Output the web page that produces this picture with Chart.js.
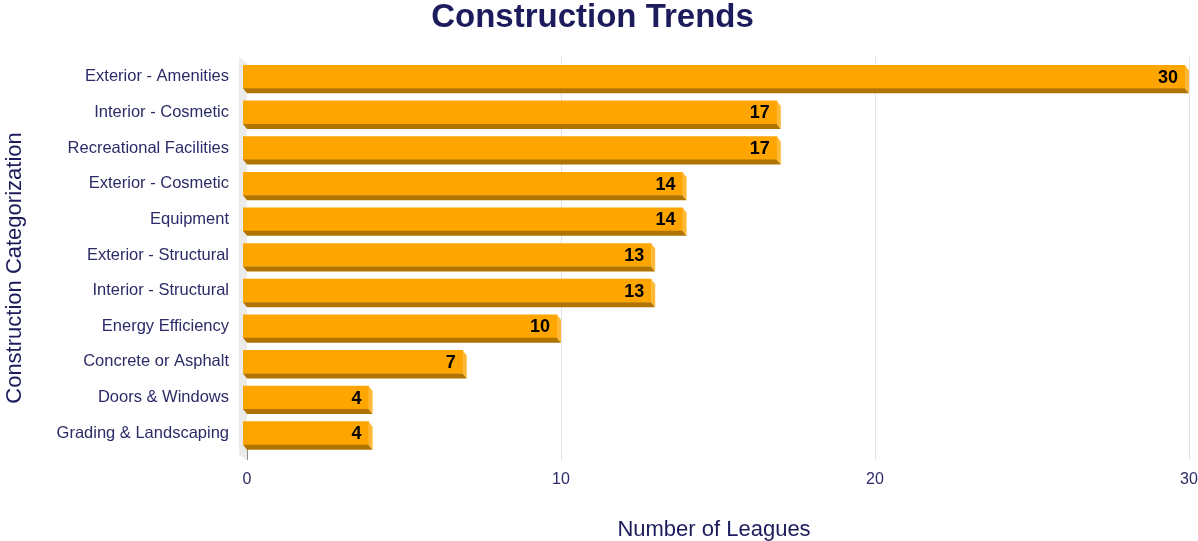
<!DOCTYPE html>
<html><head><meta charset="utf-8">
<script src="https://cdn.jsdelivr.net/npm/chart.js@4"></script>
<style>html,body{margin:0;padding:0;background:#fff}</style>
</head><body>
<canvas id="c" width="1198" height="541"></canvas>
<script>
const categories = [
  'Exterior - Amenities','Interior - Cosmetic','Recreational Facilities','Exterior - Cosmetic',
  'Equipment','Exterior - Structural','Interior - Structural','Energy Efficiency',
  'Concrete or Asphalt','Doors & Windows','Grading & Landscaping'
];
const leagues = [30,17,17,14,14,13,13,10,7,4,4];
const xTickValues = [0,10,20,30];
const chartTitle = 'Construction Trends';
const xTitle = 'Number of Leagues';
const yTitle = 'Construction Categorization';

const FONT = "'Liberation Sans', Arial, sans-serif";
const NAVY = '#1c1c5c';
const TICK = '#2b2b68';
const DX = 4, DY = 5;

const scenePlugin = {
  id: 'scene',
  beforeDatasetsDraw(chart) {
    const ctx = chart.ctx, xs = chart.scales.x, a = chart.chartArea;
    ctx.save();
    const wx = xs.getPixelForValue(0) + DX;
    ctx.fillStyle = '#ebebeb';
    ctx.beginPath();
    ctx.moveTo(wx - 8, a.top - 2);
    ctx.lineTo(wx, a.top + 4);
    ctx.lineTo(wx, a.bottom + 9);
    ctx.lineTo(wx - 8, a.bottom + 4);
    ctx.closePath();
    ctx.fill();
    ctx.strokeStyle = '#e3e3e3';
    ctx.lineWidth = 1;
    xTickValues.forEach(v => {
      if (v === 0) return;
      const px = Math.round(xs.getPixelForValue(v) + DX) + 0.5;
      ctx.beginPath();
      ctx.moveTo(px, a.top - 2);
      ctx.lineTo(px, a.bottom + 9);
      ctx.stroke();
    });
    ctx.strokeStyle = '#8c8c8c';
    ctx.beginPath();
    ctx.moveTo(Math.round(wx) + 0.5, a.bottom - 2);
    ctx.lineTo(Math.round(wx) + 0.5, a.bottom + 9);
    ctx.stroke();
    ctx.restore();
  },
  afterDatasetsDraw(chart) {
    const ctx = chart.ctx;
    const meta = chart.getDatasetMeta(0);
    ctx.save();
    meta.data.forEach((el, i) => {
      const p = el.getProps(['x','y','base','height'], true);
      const x0 = p.base, x1 = p.x, yt = p.y - p.height/2, yb = p.y + p.height/2;
      ctx.fillStyle = '#b07300';
      ctx.beginPath();
      ctx.moveTo(x0, yb); ctx.lineTo(x1, yb); ctx.lineTo(x1 + DX, yb + DY); ctx.lineTo(x0 + DX, yb + DY);
      ctx.closePath(); ctx.fill();
      ctx.fillStyle = '#ffb936';
      ctx.beginPath();
      ctx.moveTo(x1, yt); ctx.lineTo(x1 + DX, yt + DY); ctx.lineTo(x1 + DX, yb + DY); ctx.lineTo(x1, yb);
      ctx.closePath(); ctx.fill();
      ctx.fillStyle = '#000';
      ctx.font = 'bold 18px ' + FONT;
      ctx.textAlign = 'right';
      ctx.textBaseline = 'middle';
      ctx.fillText(String(leagues[i]), x1 - 7, p.y + 1);
    });
    ctx.fillStyle = NAVY;
    ctx.font = '22px ' + FONT;
    ctx.textAlign = 'center';
    ctx.textBaseline = 'alphabetic';
    ctx.translate(21, 268);
    ctx.rotate(-Math.PI/2);
    ctx.fillText(yTitle, 0, 0);
    ctx.restore();
  }
};

new Chart(document.getElementById('c'), {
  type: 'bar',
  data: {
    labels: categories,
    datasets: [{
      data: leagues,
      backgroundColor: '#FFA500',
      borderWidth: 0,
      barThickness: 23
    }]
  },
  options: {
    indexAxis: 'y',
    responsive: false,
    animation: false,
    devicePixelRatio: 1,
    layout: { padding: { right: 13 } },
    plugins: {
      legend: { display: false },
      tooltip: { enabled: false },
      title: {
        display: true,
        text: chartTitle,
        color: NAVY,
        font: { family: FONT, size: 33, weight: 'bold', lineHeight: 1.06 },
        padding: { top: 0, bottom: 24 }
      }
    },
    scales: {
      x: {
        type: 'linear',
        min: 0, max: 30,
        afterBuildTicks: s => { s.ticks = xTickValues.map(v => ({ value: v })); },
        ticks: { color: TICK, font: { family: FONT, size: 16 }, padding: 11, labelOffset: 4 },
        grid: { display: false },
        border: { display: false },
        title: { display: true, text: xTitle, color: NAVY, font: { family: FONT, size: 22, lineHeight: 1 }, padding: 0 },
        afterFit: s => { s.height = 90; s.paddingRight = 0; s.paddingLeft = 0; }
      },
      y: {
        type: 'category',
        ticks: { color: TICK, font: { family: FONT, size: 16.5 }, padding: 6 },
        grid: { display: false },
        border: { display: false },
        afterFit: s => { s.width = 243; s.paddingTop = 0; s.paddingBottom = 0; }
      }
    }
  },
  plugins: [scenePlugin]
});
</script>
</body></html>
